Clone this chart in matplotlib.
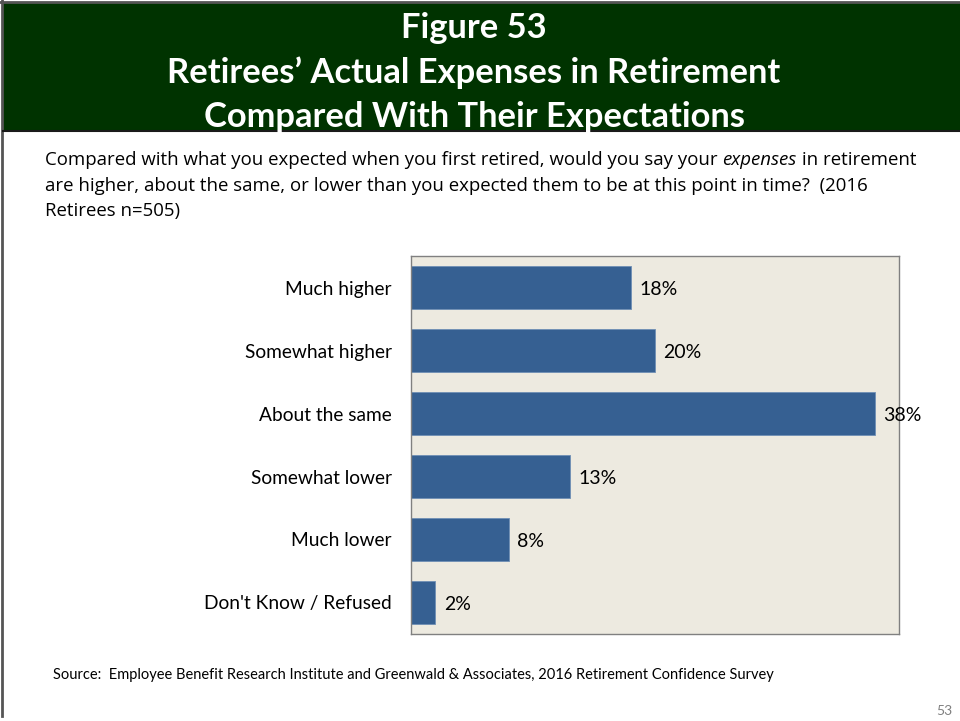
import matplotlib
matplotlib.use("Agg")
import matplotlib.pyplot as plt
from matplotlib.patches import Rectangle
from matplotlib.lines import Line2D

categories = ["Much higher", "Somewhat higher", "About the same",
              "Somewhat lower", "Much lower", "Don't Know / Refused"]
values = [18, 20, 38, 13, 8, 2]
value_labels = ["18%", "20%", "38%", "13%", "8%", "2%"]

title_lines = ["Figure 53", "Retirees\u2019 Actual Expenses in Retirement",
               "Compared With Their Expectations"]
question_parts = [("Compared with what you expected when you first retired, would you say your ", "normal"),
                  ("expenses", "italic"),
                  (" in retirement", "normal")]
question_line2 = "are higher, about the same, or lower than you expected them to be at this point in time?  (2016"
question_line3 = "Retirees n=505)"
source = ("Source:  Employee Benefit Research Institute and Greenwald & Associates, "
          "2016 Retirement Confidence Survey")

W, H = 960, 721
fig = plt.figure(figsize=(W / 100, H / 100), dpi=100)
fig.patch.set_facecolor("white")

def fx(px):
    return px / W

def fy(py):
    return 1 - py / H

# header band
fig.patches.append(Rectangle((fx(3), fy(131)), fx(957), 128 / H,
                             transform=fig.transFigure, facecolor="#003300",
                             edgecolor="none", zorder=0))
fig.add_artist(Line2D([fx(1.5), fx(1.5)], [fy(0), fy(716)], transform=fig.transFigure,
                      color="#555555", lw=2))
fig.add_artist(Line2D([fx(0), fx(960)], [fy(1.5), fy(1.5)], transform=fig.transFigure,
                      color="#555555", lw=2))
fig.add_artist(Line2D([fx(3), fx(960)], [fy(131), fy(131)], transform=fig.transFigure,
                      color="#1a1a1a", lw=1.5))

hfont = ["Lato", "DejaVu Sans"]
for t, yy in zip(title_lines, [28, 73, 117]):
    fig.text(fx(474), fy(yy), t, ha="center", va="center", color="white",
             fontsize=24.8, fontweight="bold", family=hfont)

qfont = ["Open Sans", "DejaVu Sans"]
qsize = 13.4
renderer = fig.canvas.get_renderer()
x0 = 45
for txt, style in question_parts:
    t = fig.text(fx(x0), fy(160), txt, ha="left", va="center", fontsize=qsize,
                 family=qfont, style=style, color="black")
    bb = t.get_window_extent(renderer=renderer)
    x0 += bb.width
fig.text(fx(45), fy(186), question_line2, ha="left", va="center", fontsize=qsize,
         family=qfont, color="black")
fig.text(fx(45), fy(211), question_line3, ha="left", va="center", fontsize=qsize,
         family=qfont, color="black")

ax = fig.add_axes([fx(411), fy(634), fx(899 - 411), (634 - 256) / H])
ax.set_facecolor("#EDEAE0")
y = list(range(len(categories)))
ax.barh(y, values, height=0.67, color="#366092", edgecolor="#6f8fb5", linewidth=0.6)
ax.set_xlim(0, 40)
ax.set_ylim(len(categories) - 0.5, -0.5)
ax.set_yticks(y)
ax.set_yticklabels(categories, fontsize=13.8, family=hfont)
ax.tick_params(axis="y", length=0, pad=14)
ax.set_xticks([])
for s in ax.spines.values():
    s.set_color("#808080")
    s.set_linewidth(1)
for yi, v, lab in zip(y, values, value_labels):
    ax.text(v + 0.7, yi + 0.03, lab, ha="left", va="center", fontsize=14, family=hfont,
            color="black", clip_on=False)

fig.text(fx(53), fy(675), source, ha="left", va="center", fontsize=10.5,
         family=hfont, color="black")
fig.text(fx(952), fy(711), "53", ha="right", va="center", fontsize=10,
         family=hfont, color="#808080")

fig.savefig("out.png", dpi=100)
